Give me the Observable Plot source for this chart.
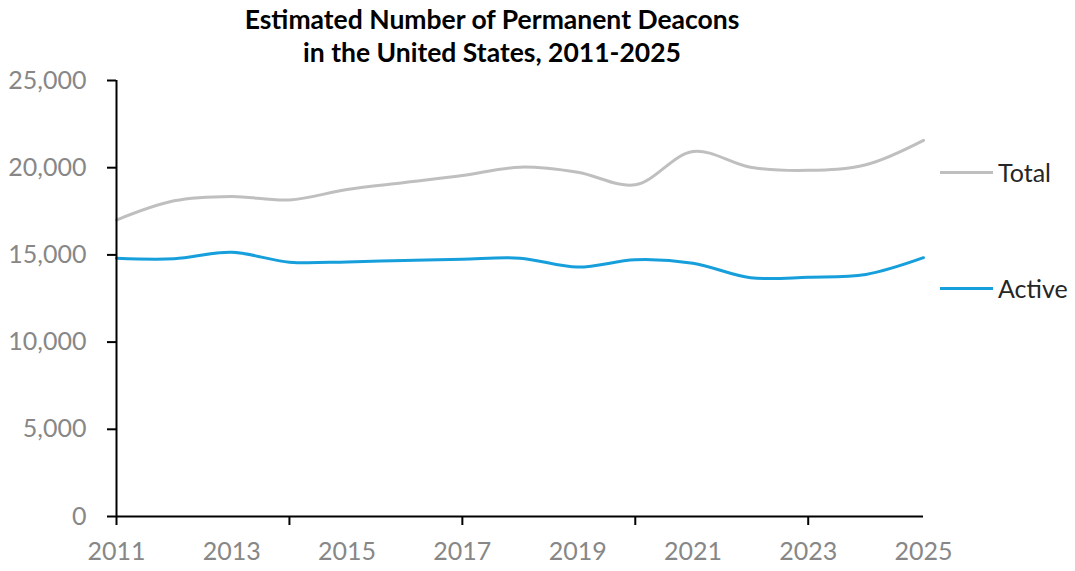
<!DOCTYPE html>
<html>
<head>
<meta charset="utf-8">
<script src="https://cdn.jsdelivr.net/npm/d3@7"></script>
<script src="https://cdn.jsdelivr.net/npm/@observablehq/plot@0.6"></script>
<style>
  html, body { margin: 0; padding: 0; background: #fff; }
  #wrap { position: relative; width: 1075px; height: 571px; overflow: hidden; font-family: Lato, "Open Sans", sans-serif; }
  #title { position: absolute; left: 192px; width: 600px; top: 3px; text-align: center; font-weight: bold; font-size: 26.5px; line-height: 33px; color: #000; }
  .leg { position: absolute; left: 940px; font-size: 25px; color: #262626; display: flex; align-items: center; height: 30px; }
  .leg span.sw { display: inline-block; width: 53px; height: 3px; margin-right: 5px; }
  #chart { position: absolute; left: 0; top: 0; }
</style>
</head>
<body>
<div id="wrap">
  <div id="chart"></div>
  <div id="title">Estimated Number of Permanent Deacons<br>in the United States, 2011-2025</div>
  <div class="leg" id="legTotal" style="top:157px"><span class="sw" style="background:#bfbfbf"></span>Total</div>
  <div class="leg" id="legActive" style="top:273px"><span class="sw" style="background:#169fdb"></span>Active</div>
</div>
<script>
const years = [2011,2012,2013,2014,2015,2016,2017,2018,2019,2020,2021,2022,2023,2024,2025];
const totalDeacons = [17000,18100,18350,18150,18750,19150,19550,20030,19740,19020,20930,20030,19850,20170,21570];
const activeDeacons = [14810,14780,15150,14580,14600,14680,14750,14810,14300,14720,14520,13690,13720,13880,14840];
const yTicks = [0,5000,10000,15000,20000,25000];
const xLabelYears = [2011,2013,2015,2017,2019,2021,2023,2025];
const xTickYears = [2011,2014,2017,2020,2023];
const seriesNames = ["Total","Active"];
const seriesColors = ["#bfbfbf","#169fdb"];

const rows = [];
years.forEach((y,i) => {
  rows.push({year: y, value: totalDeacons[i], series: seriesNames[0]});
  rows.push({year: y, value: activeDeacons[i], series: seriesNames[1]});
});

const chart = Plot.plot({
  width: 1075,
  height: 571,
  marginLeft: 116,
  marginRight: 152,
  marginTop: 80,
  marginBottom: 55,
  style: {fontFamily: "Lato, 'Open Sans', sans-serif", fontSize: "25px", background: "white"},
  x: {domain: [2011, 2025]},
  y: {domain: [0, 25000]},
  color: {domain: seriesNames, range: seriesColors},
  marks: [
    Plot.axisY({ticks: yTicks, tickSize: 9, tickPadding: 21, stroke: "black", strokeWidth: 2, fill: "#878787", fontSize: 25, tickFormat: d3.format(","), label: null}),
    Plot.axisX({ticks: xTickYears, tickSize: 9, stroke: "black", strokeWidth: 2, tickFormat: () => "", label: null}),
    Plot.axisX({ticks: xLabelYears, tickSize: 0, tickPadding: 26, fill: "#878787", fontSize: 25, tickFormat: d => String(d), label: null}),
    Plot.line(rows, {x: "year", y: "value", z: "series", stroke: "series", strokeWidth: 3, curve: "catmull-rom"}),
    Plot.ruleX([2011], {stroke: "black", strokeWidth: 2}),
    Plot.ruleY([0], {stroke: "black", strokeWidth: 2})
  ]
});
document.getElementById("chart").appendChild(chart);
</script>
</body>
</html>
